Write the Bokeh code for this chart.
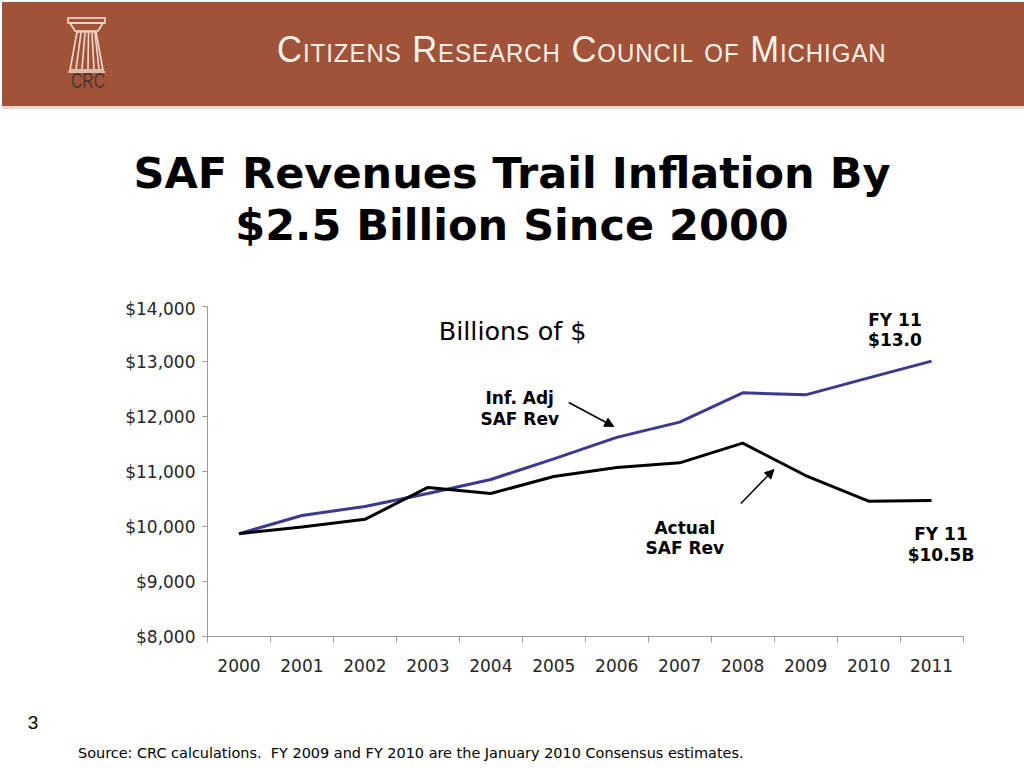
from bokeh.plotting import figure
from bokeh.models import (Range1d, FixedTicker, NumeralTickFormatter, Label, Arrow,
                          NormalHead, Div)
from bokeh.layouts import column
from bokeh.embed import file_html
from bokeh.resources import INLINE

# ---------------- data ----------------
years = ["2000", "2001", "2002", "2003", "2004", "2005",
         "2006", "2007", "2008", "2009", "2010", "2011"]
inflation_adjusted = [9870, 10200, 10365, 10600, 10855, 11230,
                      11620, 11897, 12431, 12394, 12703, 13006]
actual_saf = [9870, 9990, 10130, 10710, 10600, 10910,
              11073, 11157, 11515, 10927, 10460, 10473]
y_ticks = [8000, 9000, 10000, 11000, 12000, 13000, 14000]
title_lines = ["SAF Revenues Trail Inflation By", "$2.5 Billion Since 2000"]
header_text = "Citizens Research Council of Michigan"
source_text = "Source: CRC calculations.  FY 2009 and FY 2010 are the January 2010 Consensus estimates."
page_number = "3"

W = 1020
FONT = "DejaVu Sans"

# ---------------- header band (HTML) ----------------
logo_svg = """
<svg width="140" height="106" style="position:absolute;left:0;top:0">
  <g fill="none" stroke="#f2dccd" stroke-width="1.6">
    <rect x="68" y="18" width="37" height="5"/>
    <path d="M70 23 L103 23 L98 31 L75 31 Z"/>
    <path d="M77 32 L96 32 L103 70 L70 70 Z"/>
    <line x1="81" y1="33" x2="76" y2="69"/>
    <line x1="85" y1="33" x2="82" y2="69"/>
    <line x1="88.5" y1="33" x2="88" y2="69"/>
    <line x1="92" y1="33" x2="94" y2="69"/>
    <line x1="95" y1="33" x2="99" y2="69"/>
    <line x1="68" y1="72" x2="105" y2="72"/>
  </g>
  <text x="88" y="88" text-anchor="middle" style="font-family:'Liberation Sans';font-size:22px"
        fill="#4a3832" textLength="34" lengthAdjust="spacingAndGlyphs">CRC</text>
</svg>
"""
header_html = f"""
<div style="position:relative;width:1024px;height:109px;background:#ffffff;overflow:hidden">
  <div style="position:absolute;left:2px;top:2px;width:1022px;height:104px;background:#a1533a"></div>
  <div style="position:absolute;left:2px;top:106px;width:1022px;height:3px;background:#ecd8cf"></div>
  {logo_svg}
  <div style="position:absolute;left:277px;top:32px;font-family:'Liberation Sans',sans-serif;
              font-variant:small-caps;font-size:36px;line-height:36px;color:#f8f1e8;
              letter-spacing:1px;white-space:nowrap;transform:scaleX(0.96);
              transform-origin:left top">{header_text}</div>
</div>
"""
header = Div(text=header_html, width=1024, height=109, margin=0)

# ---------------- title (page y 109..298) ----------------
title_style = f"font-family:'{FONT}';font-weight:bold;font-size:43px"
title_html = f"""
<svg width="1024" height="189" style="display:block">
  <text x="512" y="79" text-anchor="middle" fill="#000" style="{title_style}">{title_lines[0]}</text>
  <text x="512" y="131" text-anchor="middle" fill="#000" style="{title_style}">{title_lines[1]}</text>
</svg>
"""
title = Div(text=title_html, width=1024, height=189, margin=0)

# ---------------- main chart (page y 298..700) ----------------
x_pos = [i + 0.5 for i in range(len(years))]
p = figure(width=W, height=402, x_range=Range1d(0, 12.5), y_range=Range1d(8000, 14000),
           output_backend="svg", toolbar_location=None,
           min_border_left=207, min_border_right=W - 207 - 787, min_border_top=8,
           min_border_bottom=64, outline_line_color=None)
p.grid.visible = False

p.line(x_pos, inflation_adjusted, line_color="#3b3a90", line_width=3)
p.line(x_pos, actual_saf, line_color="black", line_width=3)

AX = "#9a9a9a"
TXT = "#262626"
xa = p.xaxis[0]
xa.bounds = (0, len(years))
xa.ticker = FixedTicker(ticks=x_pos, minor_ticks=list(range(len(years) + 1)))
xa.major_label_overrides = {x: y for x, y in zip(x_pos, years)}
xa.major_tick_line_color = None
xa.major_tick_out = 0
xa.minor_tick_in = 0
xa.minor_tick_out = 6
xa.minor_tick_line_color = AX
xa.axis_line_color = AX
xa.major_label_standoff = 16
xa.major_label_text_font = FONT
xa.major_label_text_font_size = "17px"
xa.major_label_text_color = TXT

ya = p.yaxis[0]
ya.ticker = FixedTicker(ticks=y_ticks)
ya.formatter = NumeralTickFormatter(format="$0,0")
ya.minor_tick_line_color = None
ya.major_tick_in = 0
ya.major_tick_out = 5
ya.major_tick_line_color = AX
ya.axis_line_color = AX
ya.major_label_standoff = 7
ya.major_label_text_font = FONT
ya.major_label_text_font_size = "17px"
ya.major_label_text_color = TXT

# helpers for placing annotations by page pixel position
def dx(px):
    return (px - 207) / 755 * len(years)

def dy(py):
    return 14000 - (py - 306) / 330 * 6000

p.add_layout(Label(x=dx(438), y=dy(330), text="Billions of $", text_font=FONT,
                   text_font_size="25.5px", text_color="black", text_baseline="alphabetic"))

def bold_label(cx, by, txt):
    p.add_layout(Label(x=dx(cx), y=dy(by), text=txt, text_font=FONT, text_font_style="bold",
                       text_font_size="17px", text_color="black", text_align="center",
                       text_baseline="alphabetic"))

bold_label(894, 319, "FY 11")
bold_label(894, 339, "$13.0")
bold_label(519, 397, "Inf. Adj")
bold_label(519, 418, "SAF Rev")
bold_label(684, 527, "Actual")
bold_label(684, 547, "SAF Rev")
bold_label(940, 533, "FY 11")
bold_label(940, 554, "$10.5B")

p.add_layout(Arrow(end=NormalHead(size=9, fill_color="black", line_color="black"),
                   x_start=dx(568), y_start=dy(402), x_end=dx(613), y_end=dy(426),
                   line_color="black", line_width=1.5))
p.add_layout(Arrow(end=NormalHead(size=9, fill_color="black", line_color="black"),
                   x_start=dx(740), y_start=dy(503), x_end=dx(773), y_end=dy(469),
                   line_color="black", line_width=1.5))

# ---------------- footer (page y 700..766) ----------------
footer_html = f"""
<svg width="1024" height="66" style="display:block">
  <text x="33" y="29" text-anchor="middle" fill="#000"
        style="font-family:'Liberation Sans';font-size:19px">{page_number}</text>
  <text x="78" y="58" fill="#000"
        style="font-family:'{FONT}';font-size:14.45px;white-space:pre">{source_text}</text>
</svg>
"""
footer = Div(text=footer_html, width=1024, height=66, margin=0)

layout = column(header, title, p, footer, spacing=0)
open("out.html", "w").write(file_html(layout, INLINE))
